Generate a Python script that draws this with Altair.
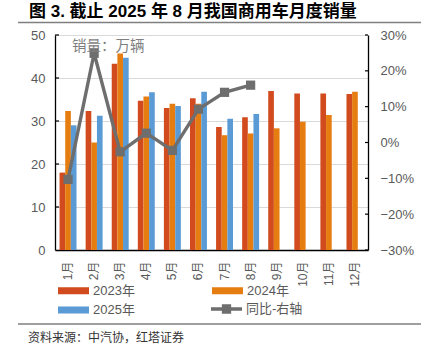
import altair as alt
import pandas as pd

# ---------------- data ----------------
months = ["1月", "2月", "3月", "4月", "5月", "6月", "7月", "8月", "9月", "10月", "11月", "12月"]
years = ["2023年", "2024年", "2025年"]
sales_2023 = [18.0, 32.3, 43.3, 34.7, 33.0, 35.3, 28.6, 30.9, 37.0, 36.4, 36.4, 36.3]
sales_2024 = [32.3, 25.0, 45.7, 35.7, 34.0, 34.0, 26.7, 27.1, 28.3, 29.8, 31.4, 36.8]
sales_2025 = [29.0, 31.2, 44.7, 36.7, 33.5, 36.8, 30.5, 31.6]
yoy_2025 = [-10.3, 24.9, -2.6, 2.6, -2.2, 9.3, 14.0, 16.0]  # percent
line_name = "同比-右轴"
left_ticks = [0, 10, 20, 30, 40, 50]
right_ticks = [-30, -20, -10, 0, 10, 20, 30]

title_text = "图 3. 截止 2025 年 8 月我国商用车月度销量"
unit_text = "销量：万辆"
source_text = "资料来源：中汽协，红塔证券"

bar_colors = ["#D24B1F", "#E67D10", "#5B9BD5"]
line_color = "#6E6E6E"
FONT = "Liberation Sans, Noto Sans CJK SC"

# ---------------- tables ----------------
rows = []
for yr, series in zip(years, [sales_2023, sales_2024, sales_2025]):
    for m, v in zip(months, series):
        rows.append({"month": m, "year": yr, "value": v})
bar_df = pd.DataFrame(rows)
line_df = pd.DataFrame({"month": months[:len(yoy_2025)], "yoy": yoy_2025, "series": line_name})
lt_df = pd.DataFrame({"value": left_ticks[1:]})
rt_df = pd.DataFrame({"yoy": right_ticks})

W, H = 313, 215

x_enc = alt.X(
    "month:N", sort=months,
    scale=alt.Scale(paddingInner=0.35, paddingOuter=0.175),
    axis=alt.Axis(title=None, labelAngle=270, ticks=False, domainColor="#000000",
                  domainWidth=1.3, labelPadding=11, labelFontSize=12,
                  labelColor="#595959", labelFont=FONT),
)

y_left = alt.Y(
    "value:Q", scale=alt.Scale(domain=[0, 50], nice=False),
    axis=alt.Axis(title=None, values=left_ticks, grid=True, gridColor="#D9D9D9",
                  ticks=False, domainColor="#000000", domainWidth=1.3,
                  labelPadding=10, labelFontSize=13, labelColor="#595959",
                  labelFont=FONT),
)

y_right = alt.Y(
    "r:Q", scale=alt.Scale(domain=[-0.3, 0.3], nice=False),
    axis=alt.Axis(title=None, orient="right", format=".0%",
                  values=[v / 100 for v in right_ticks], grid=False, ticks=False,
                  domainColor="#000000", domainWidth=1.3, labelPadding=12,
                  labelFontSize=13, labelColor="#595959", labelFont=FONT),
)

rect_path = "M-1,-0.226H1V0.226H-1Z"
line_path = "M-1,-0.106H1V0.106H-1Z M-0.3,-0.3H0.3V0.3H-0.3Z"

bars = alt.Chart(bar_df).mark_bar().encode(
    x=x_enc,
    xOffset=alt.XOffset("year:N", sort=years, scale=alt.Scale(paddingInner=0, paddingOuter=0)),
    y=y_left,
    color=alt.Color(
        "year:N", scale=alt.Scale(domain=years, range=bar_colors),
        legend=alt.Legend(title=None, orient="none", legendX=3, legendY=249,
                          direction="horizontal", columns=2, columnPadding=77,
                          rowPadding=5.5,
                          symbolType=rect_path, symbolSize=961, symbolStrokeWidth=0,
                          clipHeight=13, labelFontSize=13, labelColor="#595959",
                          labelFont=FONT, labelOffset=4, padding=0),
    ),
)

left_ticks_layer = alt.Chart(lt_df).mark_rule(color="#000000", strokeWidth=1.2).encode(
    x=alt.value(0), x2=alt.value(4), y=y_left
)

base_r = alt.Chart(line_df).transform_calculate(r="datum.yoy/100")
line = base_r.mark_line(color=line_color, strokeWidth=3.4).encode(x=x_enc, y=y_right)
points = base_r.mark_square(size=85, opacity=1).encode(
    x=x_enc, y=y_right,
    fill=alt.Fill(
        "series:N", scale=alt.Scale(domain=[line_name], range=[line_color]),
        legend=alt.Legend(title=None, orient="none", legendX=156, legendY=267.5,
                          symbolType=line_path, symbolSize=961, symbolStrokeWidth=0,
                          clipHeight=13, labelFontSize=13, labelColor="#595959",
                          labelFont=FONT, labelOffset=4, padding=0),
    ),
)
right_ticks_layer = alt.Chart(rt_df).transform_calculate(r="datum.yoy/100").mark_rule(
    color="#000000", strokeWidth=1.2
).encode(x=alt.value(W - 3), x2=alt.value(W), y=y_right)

left = alt.layer(bars, left_ticks_layer)
right = alt.layer(line, points, right_ticks_layer)

one = alt.Data(values=[{}])
title_mark = alt.Chart(pd.DataFrame({"t": [title_text]})).mark_text(
    align="left", baseline="middle", fontSize=17, fontWeight="bold",
    font=FONT, color="#000000"
).encode(text="t:N", x=alt.value(-26), y=alt.value(-23))

unit_mark = alt.Chart(pd.DataFrame({"t": [unit_text]})).mark_text(
    align="left", baseline="middle", fontSize=14.5, font=FONT, color="#7F7F7F"
).encode(text="t:N", x=alt.value(17), y=alt.value(12))

source_mark = alt.Chart(pd.DataFrame({"t": [source_text]})).mark_text(
    align="left", baseline="middle", fontSize=12, font=FONT, color="#333333"
).encode(text="t:N", x=alt.value(-27), y=alt.value(303))

top_rule = alt.Chart(one).mark_rule(color="#7F7F7F", strokeWidth=1.5).encode(
    x=alt.value(-37), x2=alt.value(366), y=alt.value(-12.5)
)
bottom_rule = alt.Chart(one).mark_rule(color="#7F7F7F", strokeWidth=1.5).encode(
    x=alt.value(-37), x2=alt.value(366), y=alt.value(289)
)

chart = alt.layer(
    left, right, title_mark, unit_mark, source_mark, top_rule, bottom_rule
).resolve_scale(y="independent").properties(
    width=W, height=H,
    autosize=alt.AutoSizeParams(type="none"),
    padding={"left": 55, "top": 35, "right": 65, "bottom": 104},
).configure_view(strokeWidth=0)

chart.save("out.html", embed_options={"renderer": "svg", "actions": False})
